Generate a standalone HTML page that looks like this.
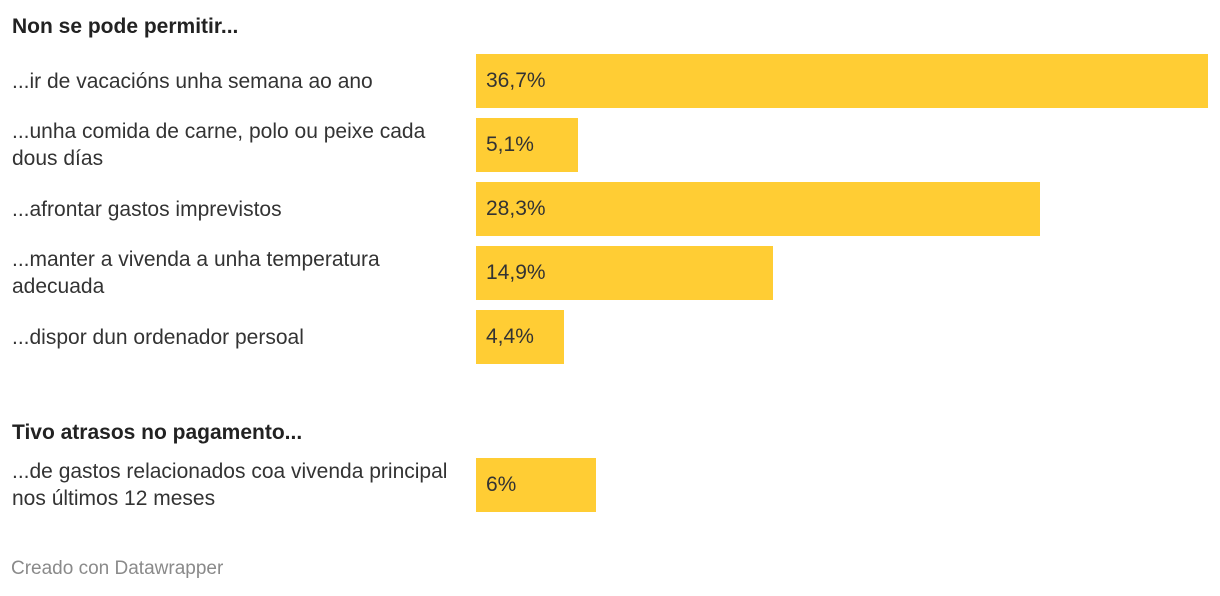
<!DOCTYPE html>
<html><head><meta charset="utf-8"><style>
body{margin:0;width:1220px;height:596px;background:#fff;font-family:"Liberation Sans",sans-serif;color:#333;position:relative;overflow:hidden}
.h{position:absolute;left:12px;font-weight:bold;font-size:21px;color:#222}
.lbl{position:absolute;left:12px;width:455px;font-size:21px;line-height:27px;display:flex;align-items:center;height:54px}
.bar{position:absolute;left:476px;height:54px;background:#ffcd34}
.val{position:absolute;left:486px;height:54px;line-height:54px;font-size:21px;color:#333}
.foot{position:absolute;left:11px;top:558px;font-size:19px;color:#8a8a8a}
</style></head><body>
<div class="h" style="top:15px">Non se pode permitir...</div>
<div class="h" style="top:421px">Tivo atrasos no pagamento...</div>
<div id="chart"></div>
<div class="foot">Creado con Datawrapper</div>
<script>
const categories=["...ir de vacacións unha semana ao ano","...unha comida de carne, polo ou peixe cada dous días","...afrontar gastos imprevistos","...manter a vivenda a unha temperatura adecuada","...dispor dun ordenador persoal","...de gastos relacionados coa vivenda principal nos últimos 12 meses"];
const values=[36.7,5.1,28.3,14.9,4.4,6];
const valueLabels=["36,7%","5,1%","28,3%","14,9%","4,4%","6%"];
const rowTops=[54,118,182,246,310,458];
const xScale=v=>v*(732/36.7);
const c=document.getElementById('chart');
values.forEach((v,i)=>{
  const y=rowTops[i];
  const l=document.createElement('div');l.className='lbl';l.style.top=y+'px';l.textContent=categories[i];
  
  
  c.appendChild(l);
  const b=document.createElement('div');b.className='bar';b.style.top=y+'px';b.style.width=xScale(v)+'px';
  
  
  c.appendChild(b);
  const t=document.createElement('div');t.className='val';t.style.top=y+'px';t.textContent=valueLabels[i];
  
  
  c.appendChild(t);
});
</script>
</body></html>
